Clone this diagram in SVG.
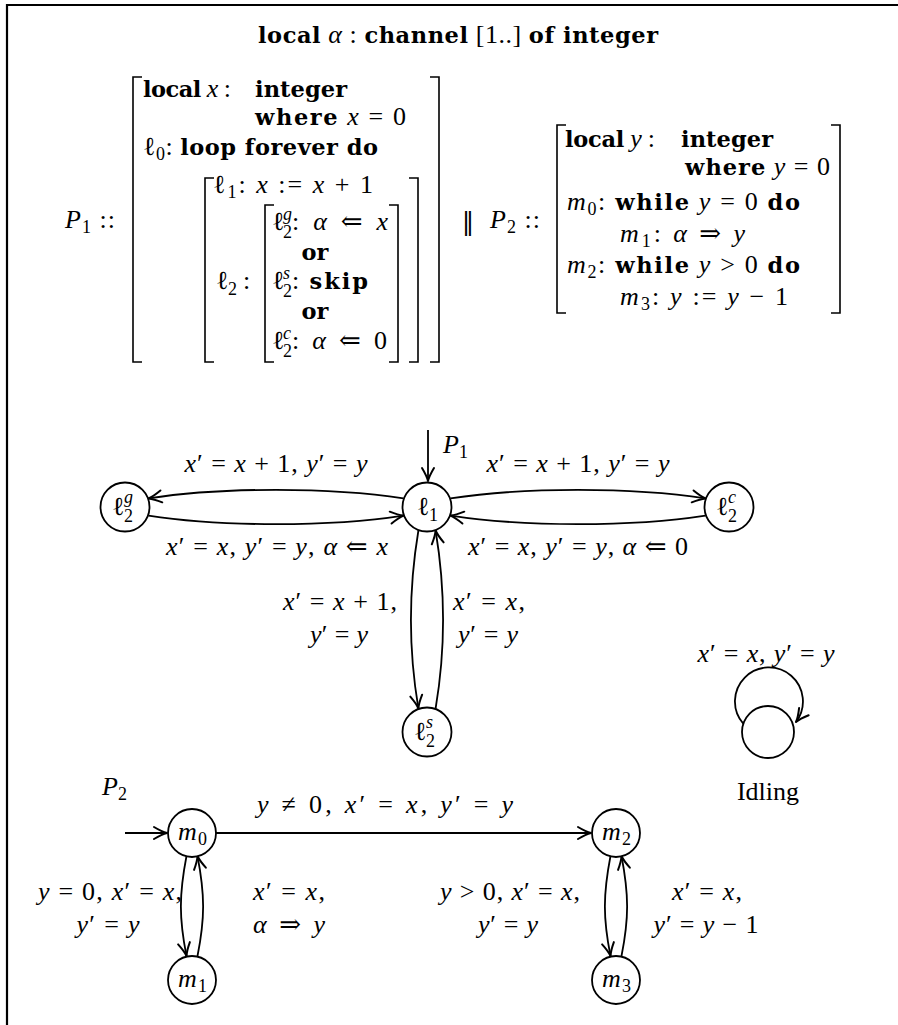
<svg xmlns="http://www.w3.org/2000/svg" width="898" height="1025" viewBox="0 0 898 1025">
<defs>
<style>
text{font-family:"Liberation Serif","DejaVu Serif",serif;font-size:26px;fill:#000}
.b{font-family:"DejaVu Serif",serif;font-weight:bold;font-size:22.5px}
.i{font-style:italic}
.s{font-size:18px}
.br{fill:none;stroke:#000;stroke-width:1.6}
.node circle{fill:#fff;stroke:#000;stroke-width:1.8}
.edge{fill:none;stroke:#000;stroke-width:1.8;marker-end:url(#ar)}
</style>
<marker id="ar" viewBox="-15 -8 17 16" markerWidth="17" markerHeight="16" refX="0" refY="0" orient="auto" markerUnits="userSpaceOnUse">
<path d="M-13,-6 Q-5,-1.2 0,0 Q-5,1.2 -13,6" fill="none" stroke="#000" stroke-width="2" stroke-linecap="round" stroke-linejoin="round"/>
</marker>
</defs>
<rect width="898" height="1025" fill="#fff"/>
<path d="M7,1025 V5 H898" fill="none" stroke="#000" stroke-width="2.2"/>

<!-- program text -->
<g id="program">
<text x="458" y="43" text-anchor="middle" textLength="400" lengthAdjust="spacing"><tspan class="b">local</tspan> <tspan class="i">α</tspan> :  <tspan class="b">channel</tspan> [1..] <tspan class="b">of integer</tspan></text>

<g id="proc-p1">
<text x="65" y="228" textLength="50" lengthAdjust="spacing"><tspan class="i">P</tspan><tspan class="s" dy="5">1</tspan><tspan dy="-5"> ::</tspan></text>
<path class="br" d="M142,77 H133 V362 H142 M430,77 H439 V362 H430"/>
<path class="br" d="M214,178 H205 V362 H214 M409,178 H418 V362 H409"/>
<path class="br" d="M274,205 H265 V362 H274 M389,205 H398 V362 H389"/>
<text x="143" y="97" textLength="88" lengthAdjust="spacing"><tspan class="b">local</tspan> <tspan class="i">x</tspan> :</text>
<text x="255" y="97" class="b" textLength="92" lengthAdjust="spacing">integer</text>
<text x="255" y="125" textLength="151" lengthAdjust="spacing"><tspan class="b">where</tspan> <tspan class="i">x</tspan> = 0</text>
<text x="143" y="155" textLength="235" lengthAdjust="spacing">ℓ<tspan class="s" dy="5">0</tspan><tspan dy="-5">: </tspan><tspan class="b">loop forever do</tspan></text>
<text x="213" y="193" textLength="160" lengthAdjust="spacing">ℓ<tspan class="s" dy="5">1</tspan><tspan dy="-5">: </tspan><tspan class="i">x</tspan> := <tspan class="i">x</tspan> + 1</text>
<text x="216" y="289">ℓ</text><text x="228" y="295" class="s">2</text><text x="243" y="289">:</text>
<text x="272" y="230">ℓ</text><text x="283" y="220" class="s i">g</text><text x="283" y="238" class="s">2</text>
<text x="292" y="230" textLength="96" lengthAdjust="spacing">: <tspan class="i">α</tspan> ⇐ <tspan class="i">x</tspan></text>
<text x="315" y="260" class="b" text-anchor="middle">or</text>
<text x="272" y="289">ℓ</text><text x="283" y="279" class="s i">s</text><text x="283" y="297" class="s">2</text>
<text x="292" y="289" textLength="76" lengthAdjust="spacing">: <tspan class="b">skip</tspan></text>
<text x="315" y="319" class="b" text-anchor="middle">or</text>
<text x="272" y="349">ℓ</text><text x="283" y="339" class="s i">c</text><text x="283" y="357" class="s">2</text>
<text x="292" y="349" textLength="95" lengthAdjust="spacing">: <tspan class="i">α</tspan> ⇐ 0</text>
</g>

<text x="468" y="230" text-anchor="middle" style="font-family:'DejaVu Sans',sans-serif;font-size:24px">‖</text>

<g id="proc-p2">
<text x="490" y="228" textLength="50" lengthAdjust="spacing"><tspan class="i">P</tspan><tspan class="s" dy="5">2</tspan><tspan dy="-5"> ::</tspan></text>
<path class="br" d="M566,125 H557 V313 H566 M831,125 H840 V313 H831"/>
<text x="565" y="147" textLength="90" lengthAdjust="spacing"><tspan class="b">local</tspan> <tspan class="i">y</tspan> :</text>
<text x="681" y="147" class="b" textLength="92" lengthAdjust="spacing">integer</text>
<text x="685" y="175" textLength="145" lengthAdjust="spacing"><tspan class="b">where</tspan> <tspan class="i">y</tspan> = 0</text>
<text x="567" y="210" textLength="233" lengthAdjust="spacing"><tspan class="i">m</tspan><tspan class="s" dy="5">0</tspan><tspan dy="-5">: </tspan><tspan class="b">while</tspan> <tspan class="i">y</tspan> = 0 <tspan class="b">do</tspan></text>
<text x="620" y="242" textLength="125" lengthAdjust="spacing"><tspan class="i">m</tspan><tspan class="s" dy="5">1</tspan><tspan dy="-5">: </tspan><tspan class="i">α</tspan> ⇒ <tspan class="i">y</tspan></text>
<text x="567" y="273" textLength="233" lengthAdjust="spacing"><tspan class="i">m</tspan><tspan class="s" dy="5">2</tspan><tspan dy="-5">: </tspan><tspan class="b">while</tspan> <tspan class="i">y</tspan> &gt; 0 <tspan class="b">do</tspan></text>
<text x="620" y="305" textLength="168" lengthAdjust="spacing"><tspan class="i">m</tspan><tspan class="s" dy="5">3</tspan><tspan dy="-5">: </tspan><tspan class="i">y</tspan> := <tspan class="i">y</tspan> − 1</text>
</g>
</g>

<!-- connectors -->
<g id="connectors">
<!-- P1 automaton -->
<path class="edge" d="M428,430 V481"/>
<path class="edge" d="M403.5,498.4 C330,487 222,487 148.5,498.4"/>
<path class="edge" d="M148.5,515.6 C222,527 330,527 403.5,515.6"/>
<path class="edge" d="M450.5,498.4 C524,487 632,487 705.5,498.4"/>
<path class="edge" d="M705.5,515.6 C632,527 524,527 450.5,515.6"/>
<path class="edge" d="M418.4,530.5 C408.5,590 408.5,650 418.4,708.5"/>
<path class="edge" d="M435.6,708.5 C445.5,650 445.5,590 435.6,530.5"/>
<path class="edge" d="M743.5,724 A34,34 0 1 1 796,722"/>
<!-- P2 automaton -->
<path class="edge" d="M125,833 H167"/>
<path class="edge" d="M216,833 H591"/>
<path class="edge" d="M186.5,856 C179,895 179,918 186.5,956"/>
<path class="edge" d="M197.5,956 C205,918 205,895 197.5,856"/>
<path class="edge" d="M610.5,856 C603,895 603,918 610.5,956"/>
<path class="edge" d="M621.5,956 C629,918 629,895 621.5,856"/>
</g>

<!-- edge labels -->
<g id="labels">
<text x="443" y="453"><tspan class="i">P</tspan><tspan class="s" dy="5">1</tspan></text>
<text x="276" y="472" text-anchor="middle" textLength="183" lengthAdjust="spacing"><tspan class="i">x</tspan>′ = <tspan class="i">x</tspan> + 1, <tspan class="i">y</tspan>′ = <tspan class="i">y</tspan></text>
<text x="578" y="472" text-anchor="middle" textLength="183" lengthAdjust="spacing"><tspan class="i">x</tspan>′ = <tspan class="i">x</tspan> + 1, <tspan class="i">y</tspan>′ = <tspan class="i">y</tspan></text>
<text x="277" y="555" text-anchor="middle" textLength="222" lengthAdjust="spacing"><tspan class="i">x</tspan>′ = <tspan class="i">x</tspan>, <tspan class="i">y</tspan>′ = <tspan class="i">y</tspan>, <tspan class="i">α</tspan> ⇐ <tspan class="i">x</tspan></text>
<text x="578" y="555" text-anchor="middle" textLength="220" lengthAdjust="spacing"><tspan class="i">x</tspan>′ = <tspan class="i">x</tspan>, <tspan class="i">y</tspan>′ = <tspan class="i">y</tspan>, <tspan class="i">α</tspan> ⇐ 0</text>
<text x="340" y="610" text-anchor="middle" textLength="114" lengthAdjust="spacing"><tspan class="i">x</tspan>′ = <tspan class="i">x</tspan> + 1,</text>
<text x="339" y="643" text-anchor="middle" textLength="58" lengthAdjust="spacing"><tspan class="i">y</tspan>′ = <tspan class="i">y</tspan></text>
<text x="489" y="610" text-anchor="middle" textLength="72" lengthAdjust="spacing"><tspan class="i">x</tspan>′ = <tspan class="i">x</tspan>,</text>
<text x="488" y="643" text-anchor="middle" textLength="60" lengthAdjust="spacing"><tspan class="i">y</tspan>′ = <tspan class="i">y</tspan></text>
<text x="766" y="662" text-anchor="middle" textLength="137" lengthAdjust="spacing"><tspan class="i">x</tspan>′ = <tspan class="i">x</tspan>, <tspan class="i">y</tspan>′ = <tspan class="i">y</tspan></text>
<text x="768" y="800" text-anchor="middle">Idling</text>
<text x="102" y="795"><tspan class="i">P</tspan><tspan class="s" dy="5">2</tspan></text>
<text x="385" y="813" text-anchor="middle" textLength="256" lengthAdjust="spacing"><tspan class="i">y</tspan> ≠ 0, <tspan class="i">x</tspan>′ = <tspan class="i">x</tspan>, <tspan class="i">y</tspan>′ = <tspan class="i">y</tspan></text>
<text x="110" y="900" text-anchor="middle" textLength="144" lengthAdjust="spacing"><tspan class="i">y</tspan> = 0, <tspan class="i">x</tspan>′ = <tspan class="i">x</tspan>,</text>
<text x="108" y="933" text-anchor="middle" textLength="63" lengthAdjust="spacing"><tspan class="i">y</tspan>′ = <tspan class="i">y</tspan></text>
<text x="253" y="900" textLength="72" lengthAdjust="spacing"><tspan class="i">x</tspan>′ = <tspan class="i">x</tspan>,</text>
<text x="253" y="933" textLength="72" lengthAdjust="spacing"><tspan class="i">α</tspan> ⇒ <tspan class="i">y</tspan></text>
<text x="510" y="900" text-anchor="middle" textLength="140" lengthAdjust="spacing"><tspan class="i">y</tspan> &gt; 0, <tspan class="i">x</tspan>′ = <tspan class="i">x</tspan>,</text>
<text x="508" y="933" text-anchor="middle" textLength="60" lengthAdjust="spacing"><tspan class="i">y</tspan>′ = <tspan class="i">y</tspan></text>
<text x="707" y="900" text-anchor="middle" textLength="70" lengthAdjust="spacing"><tspan class="i">x</tspan>′ = <tspan class="i">x</tspan>,</text>
<text x="706" y="933" text-anchor="middle" textLength="105" lengthAdjust="spacing"><tspan class="i">y</tspan>′ = <tspan class="i">y</tspan> − 1</text>
</g>

<!-- states -->
<g id="l1" class="node"><circle cx="427" cy="507" r="24.5"/><text x="417" y="515">ℓ</text><text x="429" y="521" class="s">1</text></g>
<g id="l2g" class="node"><circle cx="125" cy="507" r="24.5"/><text x="112" y="515">ℓ</text><text x="124" y="503" class="s i">g</text><text x="124" y="522" class="s">2</text></g>
<g id="l2c" class="node"><circle cx="729" cy="507" r="24.5"/><text x="716" y="515">ℓ</text><text x="728" y="503" class="s i">c</text><text x="728" y="522" class="s">2</text></g>
<g id="l2s" class="node"><circle cx="427" cy="732" r="24.5"/><text x="414" y="740">ℓ</text><text x="426" y="728" class="s i">s</text><text x="426" y="747" class="s">2</text></g>
<g id="idle" class="node"><circle cx="768" cy="732" r="26"/></g>
<g id="m0" class="node"><circle cx="192" cy="833" r="24"/><text x="178" y="840" class="i">m</text><text x="198" y="845" class="s">0</text></g>
<g id="m1" class="node"><circle cx="192" cy="980" r="24"/><text x="178" y="987" class="i">m</text><text x="198" y="992" class="s">1</text></g>
<g id="m2" class="node"><circle cx="616" cy="833" r="24"/><text x="602" y="840" class="i">m</text><text x="622" y="845" class="s">2</text></g>
<g id="m3" class="node"><circle cx="616" cy="980" r="24"/><text x="602" y="987" class="i">m</text><text x="622" y="992" class="s">3</text></g>
</svg>
